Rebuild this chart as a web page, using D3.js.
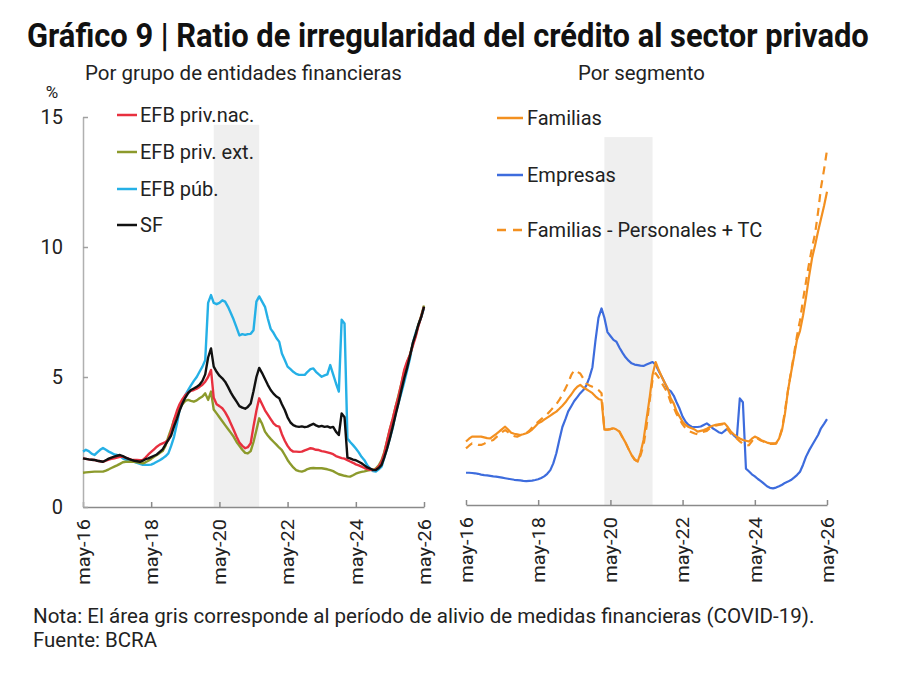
<!DOCTYPE html>
<html>
<head>
<meta charset="utf-8">
<script src="https://cdn.jsdelivr.net/npm/d3@7"></script>
<style>
  body { margin: 0; background: #fff; }
  text { font-family: Roboto, "Noto Sans", sans-serif; fill: #222; }
</style>
</head>
<body>
<svg id="chart" width="912" height="677"></svg>
<script>
// monthly series, may-16 .. may-26 (121 points)
var startMonth = new Date(2016, 4, 1);

var efbPrivNac = [
  1.87, 1.85, 1.83, 1.82, 1.81, 1.78, 1.76, 1.74, 1.78, 1.82,
  1.85, 1.87, 1.90, 1.93, 1.94, 1.90, 1.86, 1.82, 1.81, 1.81,
  1.80, 1.81, 1.90, 2.02, 2.12, 2.22, 2.32, 2.40, 2.45, 2.50,
  2.58, 2.90, 3.35, 3.70, 3.95, 4.15, 4.30, 4.40, 4.47, 4.50,
  4.55, 4.62, 4.70, 4.82, 5.00, 5.27, 4.20, 3.95, 3.88, 3.80,
  3.65, 3.45, 3.20, 2.96, 2.70, 2.48, 2.35, 2.26, 2.30, 2.45,
  3.10, 3.70, 4.18, 3.95, 3.72, 3.55, 3.38, 3.22, 3.12, 3.09,
  2.80, 2.55, 2.35, 2.20, 2.13, 2.13, 2.12, 2.13, 2.18, 2.22,
  2.26, 2.24, 2.20, 2.19, 2.15, 2.13, 2.10, 2.07, 2.03, 1.96,
  1.92, 1.88, 1.86, 1.80, 1.75, 1.70, 1.64, 1.60, 1.55, 1.50,
  1.46, 1.43, 1.42, 1.45, 1.55, 1.75, 2.05, 2.55, 3.00, 3.40,
  3.85, 4.24, 4.75, 5.27, 5.60, 5.85, 6.20, 6.55, 6.95, 7.32,
  7.70
];

var efbPrivExt = [
  1.32, 1.33, 1.34, 1.35, 1.36, 1.36, 1.36, 1.36, 1.40, 1.45,
  1.50, 1.55, 1.60, 1.66, 1.72, 1.74, 1.74, 1.74, 1.74, 1.72,
  1.70, 1.68, 1.72, 1.78, 1.85, 1.93, 2.00, 2.08, 2.15, 2.35,
  2.70, 3.00, 3.35, 3.60, 3.80, 3.95, 4.08, 4.12, 4.08, 4.05,
  4.10, 4.18, 4.25, 4.37, 4.12, 4.44, 3.75, 3.60, 3.45, 3.30,
  3.15, 3.00, 2.85, 2.70, 2.50, 2.35, 2.20, 2.08, 2.06, 2.15,
  2.50, 2.95, 3.41, 3.20, 2.90, 2.75, 2.62, 2.51, 2.40, 2.28,
  2.19, 2.00, 1.81, 1.65, 1.52, 1.42, 1.38, 1.36, 1.40, 1.46,
  1.49, 1.50, 1.49, 1.49, 1.49, 1.47, 1.45, 1.42, 1.38, 1.32,
  1.26, 1.23, 1.20, 1.18, 1.17, 1.22, 1.28, 1.32, 1.35, 1.37,
  1.40, 1.42, 1.43, 1.48, 1.60, 1.80, 2.10, 2.55, 3.00, 3.40,
  3.85, 4.30, 4.75, 5.20, 5.55, 5.85, 6.25, 6.60, 7.00, 7.35,
  7.75
];

var efbPub = [
  2.13, 2.20, 2.15, 2.05, 2.00, 2.10, 2.20, 2.27, 2.20, 2.13,
  2.08, 2.02, 2.00, 1.95, 1.87, 1.82, 1.78, 1.75, 1.74, 1.70,
  1.66, 1.62, 1.62, 1.62, 1.63, 1.68, 1.74, 1.80, 1.87, 1.95,
  2.06, 2.35, 2.70, 3.20, 3.73, 4.05, 4.30, 4.50, 4.68, 4.85,
  5.00, 5.20, 5.40, 5.65, 7.85, 8.15, 7.85, 7.80, 7.85, 7.95,
  7.90, 7.70, 7.45, 7.20, 6.90, 6.60, 6.65, 6.62, 6.65, 6.66,
  6.80, 7.90, 8.10, 7.90, 7.70, 7.25, 6.85, 6.70, 6.50, 6.35,
  5.90, 5.65, 5.40, 5.30, 5.20, 5.12, 5.08, 5.08, 5.08, 5.20,
  5.30, 5.33, 5.20, 5.10, 5.01, 5.06, 5.10, 5.46, 5.10, 4.76,
  4.44, 7.20, 7.06, 2.64, 2.50, 2.38, 2.25, 2.10, 1.93, 1.80,
  1.60, 1.48, 1.38, 1.36, 1.45, 1.55, 1.90, 2.25, 2.65, 3.05,
  3.60, 4.00, 4.40, 4.80, 5.25, 5.70, 6.30, 6.70, 7.00, 7.30,
  7.65
];

var sistemaFinanciero = [
  1.87, 1.85, 1.83, 1.82, 1.81, 1.78, 1.76, 1.74, 1.80, 1.86,
  1.90, 1.94, 1.97, 2.00, 1.96, 1.90, 1.85, 1.81, 1.78, 1.76,
  1.74, 1.78, 1.84, 1.87, 1.92, 1.97, 2.02, 2.12, 2.22, 2.40,
  2.58, 2.75, 3.10, 3.40, 3.70, 3.98, 4.20, 4.38, 4.50, 4.56,
  4.62, 4.70, 4.85, 5.10, 5.75, 6.10, 5.40, 5.20, 5.05, 4.95,
  4.82, 4.62, 4.40, 4.22, 4.05, 3.88, 3.82, 3.78, 3.85, 3.98,
  4.45, 5.00, 5.35, 5.15, 4.92, 4.70, 4.50, 4.36, 4.25, 4.18,
  3.95, 3.73, 3.45, 3.25, 3.15, 3.10, 3.08, 3.10, 3.07, 3.09,
  3.15, 3.20, 3.14, 3.09, 3.12, 3.08, 3.10, 3.05, 3.08, 2.90,
  2.77, 3.60, 3.45, 1.90, 1.87, 1.82, 1.80, 1.74, 1.68, 1.60,
  1.52, 1.48, 1.43, 1.42, 1.50, 1.62, 1.90, 2.25, 2.65, 3.10,
  3.55, 4.00, 4.50, 4.95, 5.35, 5.80, 6.30, 6.65, 7.00, 7.30,
  7.70
];

var familias = [
  2.44, 2.55, 2.63, 2.63, 2.63, 2.63, 2.60, 2.57, 2.56, 2.65,
  2.73, 2.82, 2.92, 3.01, 2.90, 2.78, 2.74, 2.72, 2.69, 2.72,
  2.76, 2.82, 2.90, 3.02, 3.14, 3.20, 3.28, 3.36, 3.44, 3.52,
  3.59, 3.70, 3.82, 3.95, 4.10, 4.25, 4.42, 4.55, 4.62, 4.52,
  4.45, 4.38, 4.30, 4.18, 4.08, 4.04, 2.90, 2.90, 2.92, 2.95,
  2.90, 2.82, 2.60, 2.40, 2.15, 1.92, 1.75, 1.67, 2.00, 2.50,
  3.30, 4.10, 5.00, 5.50, 5.20, 4.94, 4.70, 4.50, 4.10, 3.90,
  3.60, 3.40, 3.20, 3.08, 3.00, 2.95, 2.90, 2.82, 2.85, 2.88,
  2.93, 3.00, 3.05, 3.08, 3.10, 3.12, 3.14, 3.00, 2.82, 2.72,
  2.63, 2.56, 2.50, 2.47, 2.44, 2.55, 2.63, 2.58, 2.50, 2.45,
  2.40, 2.37, 2.37, 2.37, 2.55, 2.90, 3.50, 4.40, 5.06, 5.70,
  6.35, 6.70, 7.30, 8.00, 8.80, 9.50, 10.00, 10.55, 11.00, 11.50,
  12.05
];

var empresas = [
  1.24, 1.24, 1.23, 1.22, 1.20, 1.17, 1.15, 1.14, 1.12, 1.10,
  1.09, 1.07, 1.05, 1.03, 1.01, 0.99, 0.97, 0.96, 0.95, 0.93,
  0.92, 0.93, 0.94, 0.96, 0.99, 1.04, 1.10, 1.20, 1.34, 1.60,
  1.99, 2.50, 3.00, 3.30, 3.60, 3.80, 4.00, 4.15, 4.30, 4.42,
  4.60, 4.90, 5.30, 6.30, 7.20, 7.56, 7.20, 6.65, 6.50, 6.35,
  6.28, 6.05, 5.85, 5.68, 5.55, 5.45, 5.40, 5.38, 5.36, 5.35,
  5.40, 5.45, 5.50, 5.40, 5.15, 4.94, 4.70, 4.45, 4.38, 4.20,
  3.95, 3.70, 3.40, 3.20, 3.08, 3.01, 3.00, 3.00, 3.02, 3.08,
  3.14, 3.05, 2.95, 2.88, 2.80, 2.76, 2.85, 2.95, 2.80, 2.68,
  2.58, 4.10, 3.95, 1.40, 1.30, 1.18, 1.10, 1.00, 0.92, 0.82,
  0.72, 0.66, 0.64, 0.67, 0.72, 0.78, 0.85, 0.90, 0.96, 1.05,
  1.15, 1.28, 1.55, 1.86, 2.10, 2.30, 2.50, 2.70, 2.95, 3.12,
  3.30
];

var familiasPersTc = [
  2.18, 2.28, 2.37, 2.35, 2.31, 2.31, 2.36, 2.42, 2.46, 2.50,
  2.60, 2.70, 2.80, 2.88, 2.80, 2.70, 2.65, 2.63, 2.68, 2.72,
  2.76, 2.86, 2.98, 3.10, 3.20, 3.30, 3.40, 3.50, 3.62, 3.75,
  3.88, 4.04, 4.25, 4.48, 4.70, 5.00, 5.19, 5.12, 5.06, 4.86,
  4.67, 4.60, 4.55, 4.50, 4.42, 4.30, 2.90, 2.90, 2.92, 2.95,
  2.90, 2.82, 2.60, 2.40, 2.15, 1.92, 1.75, 1.67, 1.90, 2.30,
  3.00, 4.00, 4.80, 5.07, 4.90, 4.70, 4.50, 4.30, 3.95, 3.75,
  3.50, 3.30, 3.10, 2.95, 2.85, 2.80, 2.75, 2.72, 2.78, 2.82,
  2.85, 2.95, 3.00, 3.05, 3.08, 3.10, 3.12, 2.90, 2.75, 2.65,
  2.55, 2.45, 2.35, 2.28, 2.30, 2.45, 2.60, 2.55, 2.48, 2.43,
  2.38, 2.35, 2.35, 2.36, 2.55, 2.95, 3.60, 4.40, 5.10, 5.80,
  6.50, 7.10, 7.90, 8.60, 9.30, 9.90, 10.45, 11.30, 12.20, 12.90,
  13.65
];

var tickLabels = ['may-16', 'may-18', 'may-20', 'may-22', 'may-24', 'may-26'];
var yTicks = [0, 5, 10, 15];
// período de alivio (COVID-19)
var alivio = [new Date(2020, 2, 1), new Date(2021, 6, 1)];

var months = d3.range(efbPrivNac.length).map(function (i) {
  return d3.timeMonth.offset(startMonth, i);
});
var tickDates = tickLabels.map(function (d, i) {
  return d3.timeYear.offset(startMonth, i * 2);
});

var svg = d3.select('#chart');

function panel(cfg) {
  var x = d3.scaleTime()
    .domain([startMonth, months[months.length - 1]])
    .range(cfg.xRange);
  var y = d3.scaleLinear()
    .domain([0, 15])
    .range(cfg.yRange);

  var g = svg.append('g').attr('class', 'panel');

  // shaded relief period
  g.append('rect')
    .attr('x', x(alivio[0]))
    .attr('y', y(cfg.shadeTop))
    .attr('width', x(alivio[1]) - x(alivio[0]))
    .attr('height', y(0) - y(cfg.shadeTop))
    .attr('fill', '#efefef');

  var xAxis = g.append('g')
    .attr('transform', 'translate(0,' + y(0) + ')')
    .call(d3.axisBottom(x)
      .tickValues(tickDates)
      .tickFormat(function (d, i) { return tickLabels[i]; })
      .tickSizeInner(-5)
      .tickSizeOuter(0));

  xAxis.select('.domain').attr('stroke', '#8a8a8a').attr('stroke-width', 1.5);
  xAxis.selectAll('.tick line').attr('stroke', '#8a8a8a').attr('stroke-width', 1.5);
  xAxis.selectAll('.tick text')
    .attr('font-size', 20)
    .attr('font-family', 'Roboto')
    .attr('fill', '#222')
    .attr('text-anchor', 'end')
    .attr('transform', 'scale(0.88,1) rotate(-90)')
    .attr('x', -12)
    .attr('y', 0)
    .attr('dy', '0.36em');

  if (cfg.yAxis) {
    var yAxis = g.append('g')
      .attr('transform', 'translate(' + cfg.xRange[0] + ',0)')
      .call(d3.axisLeft(y)
        .tickValues(yTicks)
        .tickSizeInner(-5)
        .tickSizeOuter(0)
        .tickPadding(20));
    yAxis.select('.domain').attr('stroke', '#b0b0b0').attr('stroke-width', 1.5);
    yAxis.selectAll('.tick line').attr('stroke', '#a0a0a0').attr('stroke-width', 1.5);
    yAxis.selectAll('.tick text')
      .attr('font-size', 20)
      .attr('font-family', 'Roboto')
      .attr('fill', '#222');
  }

  var line = d3.line()
    .x(function (d, i) { return x(months[i]); })
    .y(function (d) { return y(d); });

  g.selectAll('path.serie')
    .data(cfg.series)
    .enter()
    .append('path')
      .attr('class', 'serie')
      .attr('d', function (s) { return line(s.values); })
      .attr('fill', 'none')
      .attr('stroke', function (s) { return s.color; })
      .attr('stroke-width', cfg.lineWidth)
      .attr('stroke-dasharray', function (s) { return s.dash || null; })
      .attr('stroke-linejoin', 'round');

  // legend
  var lg = g.selectAll('g.legend')
    .data(cfg.legend)
    .enter()
    .append('g')
      .attr('class', 'legend')
      .attr('transform', function (s, i) {
        return 'translate(0,' + cfg.legendRows[i] + ')';
      });
  lg.append('line')
    .attr('x1', cfg.legendX[0])
    .attr('x2', cfg.legendX[1])
    .attr('stroke', function (s) { return s.color; })
    .attr('stroke-width', 2.5)
    .attr('stroke-dasharray', function (s) { return s.dash ? '9,7' : null; });
  lg.append('text')
    .attr('x', cfg.legendX[2])
    .attr('y', 7)
    .attr('font-size', 20)
    .text(function (s) { return s.name; });
}

var nac = { name: 'EFB priv.nac.', values: efbPrivNac, color: '#e8303f' };
var ext = { name: 'EFB priv. ext.', values: efbPrivExt, color: '#8c9a2c' };
var pub = { name: 'EFB púb.', values: efbPub, color: '#25b0e6' };
var sf = { name: 'SF', values: sistemaFinanciero, color: '#111111' };

panel({
  xRange: [83, 424],
  yRange: [507, 117],
  shadeTop: 14.7,
  yAxis: true,
  lineWidth: 2.4,
  series: [pub, ext, nac, sf],
  legend: [nac, ext, pub, sf],
  legendRows: [115, 152, 189, 225],
  legendX: [117, 137, 140]
});

var fam = { name: 'Familias', values: familias, color: '#f39020' };
var emp = { name: 'Empresas', values: empresas, color: '#3d6cdd' };
var famTc = { name: 'Familias - Personales + TC', values: familiasPersTc, color: '#f39020', dash: '8,6' };

panel({
  xRange: [466, 827],
  yRange: [505, 115],
  shadeTop: 14.15,
  yAxis: false,
  lineWidth: 2.2,
  series: [emp, fam, famTc],
  legend: [fam, emp, famTc],
  legendRows: [118, 175, 230],
  legendX: [497, 523, 527]
});

// condensed text: squeeze horizontally to the width it takes in the original
function squeezed(str, x, y, size, width, weight) {
  var t = svg.append('text')
    .attr('font-size', size)
    .attr('font-weight', weight || 400)
    .text(str);
  var k = width / t.node().getComputedTextLength();
  t.attr('transform', 'translate(' + x + ',' + y + ') scale(' + k + ',1)');
  return t;
}

squeezed('Gráfico 9 | Ratio de irregularidad del crédito al sector privado', 27, 47, 33, 842, 700)
  .style('fill', '#111');
squeezed('Por grupo de entidades financieras', 85, 80, 21, 317);
squeezed('Por segmento', 578, 80, 21, 127);
squeezed('Nota: El área gris corresponde al período de alivio de medidas financieras (COVID-19).', 33, 623, 21, 782);
squeezed('Fuente: BCRA', 33, 647, 21, 124);

svg.append('text')
  .attr('x', 52)
  .attr('y', 98)
  .attr('text-anchor', 'middle')
  .attr('font-size', 17)
  .text('%');
</script>
</body>
</html>
